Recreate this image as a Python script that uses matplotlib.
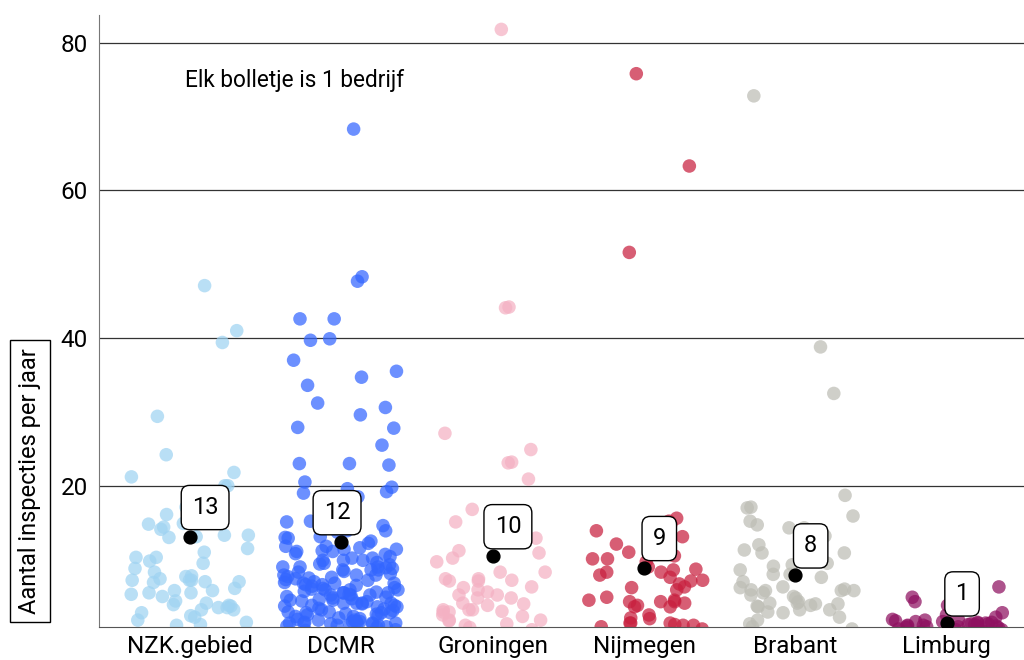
import numpy as np
import matplotlib
matplotlib.use("Agg")
import matplotlib.pyplot as plt

plt.rcParams['font.family'] = ['Roboto', 'DejaVu Sans']

# categories and colours
regions = ['NZK.gebied', 'DCMR', 'Groningen', 'Nijmegen', 'Brabant', 'Limburg']
colors = ['#9fd3f2', '#3366ff', '#f4b1c3', '#c8203f', '#bdbdb5', '#8e1060']

# inspections per year, one value per company
nzk = [47.1, 41.0, 39.4, 29.4, 24.2, 21.8, 21.2, 20.0, 20.0, 17.1, 16.1, 14.4,
       14.1, 14.9, 14.9, 13.1, 13.3, 13.3, 11.0, 11.5, 10.3, 9.8, 9.5, 10.3,
       8.8, 7.8, 7.7, 7.0, 7.0, 7.2, 7.2, 7.4, 7.2, 6.9, 5.8, 8.3, 5.8, 5.3,
       3.8, 5.5, 5.0, 6.1, 5.5, 3.7, 4.1, 3.5, 2.8, 2.2, 2.4, 3.2, 3.9, 3.2,
       1.8, 1.1, 13.0, 14.8, 3.5, 4.4, 1.5, 1.2]
dcmr = [68.3, 47.7, 48.3, 42.6, 42.6, 39.7, 39.9, 37.0, 35.5, 33.6, 34.7, 31.2,
        30.6, 29.6, 27.9, 25.5, 27.8, 22.8, 23.0, 23.0, 20.5, 19.8, 19.6,
        19.0, 19.2, 18.5, 17.0, 16.5, 15.9, 15.2, 15.1, 13.9, 13.7, 13.9, 13.1,
        12.5, 13.0, 11.8, 11.8, 11.1, 11.4, 11.6, 11.1, 11.4, 10.7, 9.9, 10.2,
        9.9, 9.5, 9.9, 10.2, 9.3, 9.0, 8.8, 9.0, 8.6, 9.0, 8.3, 7.6, 8.6, 7.9,
        7.9, 7.9, 8.6, 7.2, 7.5, 6.6, 5.9, 6.8, 6.1, 6.8, 5.9, 6.6, 7.0, 6.2,
        6.8, 5.9, 5.5, 5.5, 5.5, 5.2, 5.2, 4.8, 4.9, 5.2, 4.1, 4.5, 4.5, 4.1,
        3.8, 3.8, 3.6, 4.1, 4.3, 4.1, 3.6, 3.2, 2.9, 2.8, 2.9, 2.5, 2.8, 2.8,
        2.3, 2.3, 2.1, 1.6, 1.6, 1.8, 1.4, 1.1, 1.6, 1.4, 1.4, 1.4, 1.3, 1.4,
        1.1, 12.2, 10.8, 10.4, 9.6, 8.9, 8.4, 8.1, 7.7, 7.3, 6.9, 6.4, 6.0,
        5.7, 5.3, 5.0, 4.7, 4.4, 4.0, 3.7, 3.4, 3.1, 2.7, 2.4, 2.0, 1.8, 1.5,
        1.2, 1.0, 0.8, 0.5, 14.6, 12.9, 11.2, 9.4, 7.4, 6.5, 5.6, 4.6, 3.3,
        2.6, 1.9, 1.3, 0.9, 0.4]
groningen = [81.8, 44.2, 44.1, 27.1, 23.2, 23.1, 24.9, 20.9, 16.8, 14.7, 12.9,
             10.9, 10.2, 9.7, 12.8, 11.2, 8.3, 8.3, 7.1, 6.2, 5.6, 4.8, 7.4,
             7.4, 7.1, 7.2, 6.3, 5.9, 4.8, 5.2, 5.2, 4.1, 3.2, 3.8, 3.2, 2.3,
             3.0, 3.2, 2.5, 4.0, 2.9, 1.8, 1.7, 2.9, 1.8, 1.1, 0.8, 0.5, 1.3,
             15.1]
nijmegen = [75.8, 63.3, 51.6, 15.2, 13.9, 14.8, 15.6, 13.1, 12.0, 11.0, 10.1,
            9.7, 10.5, 10.1, 12.1, 9.0, 8.6, 7.1, 7.9, 8.3, 6.7, 8.3, 7.6, 7.2,
            8.7, 6.3, 5.9, 6.2, 4.3, 4.9, 4.3, 4.5, 3.6, 3.8, 4.3, 3.6, 4.5,
            4.1, 2.5, 2.1, 2.0, 1.4, 1.4, 1.1, 1.1, 1.4, 0.9, 1.2, 0.6]
brabant = [72.8, 38.8, 32.5, 18.7, 17.1, 17.0, 15.9, 15.2, 14.7, 14.3, 14.3,
           13.2, 12.0, 10.9, 10.9, 9.5, 11.3, 9.3, 8.6, 9.1, 8.0, 7.6, 8.0,
           7.0, 5.8, 5.8, 6.0, 5.8, 6.3, 5.5, 5.9, 6.2, 4.8, 5.2, 3.7, 4.0,
           5.0, 3.6, 4.0, 2.9, 4.3, 4.1, 4.1, 3.8, 3.2, 2.8, 3.2, 2.2, 1.8,
           0.9, 1.3, 0.6]
limburg = [6.3, 4.3, 2.8, 4.9, 3.8, 2.5, 2.2, 1.9, 1.8, 1.8, 1.7, 1.6, 1.6,
           1.5, 1.5, 1.4, 1.4, 1.3, 1.3, 1.2, 1.2, 1.1, 1.1, 1.0, 1.0, 1.0,
           0.9, 0.9, 0.8, 0.8, 0.7, 0.6, 0.5, 0.5, 0.3, 0.2, 0, 0, 0, 0]
series = [nzk, dcmr, groningen, nijmegen, brabant, limburg]

# group averages (black dots) and their labels
means = [13.1, 12.4, 10.5, 8.9, 7.9, 1.4]
mean_labels = ['13', '12', '10', '9', '8', '1']

fig = plt.figure(figsize=(10.24, 6.6), dpi=100)
ax = fig.add_axes([99 / 1024, 33 / 660, 925 / 1024, 612 / 660])

rng = np.random.default_rng(7)
for i, vals in enumerate(series):
    xs = i + rng.uniform(-0.39, 0.39, len(vals))
    ax.scatter(xs, vals, s=95, color=colors[i], alpha=0.72,
               edgecolors='none', zorder=2)

ax.scatter(range(len(means)), means, s=85, color='black', zorder=4)
for i, (m, lab) in enumerate(zip(means, mean_labels)):
    off = (-3, 21) if i == 1 else (11, 21)
    ax.annotate(lab, (i, m), xytext=off, textcoords='offset points',
                ha='center', va='center', fontsize=17, zorder=5,
                bbox=dict(boxstyle='round,pad=0.45,rounding_size=0.35',
                          fc='white', ec='black', lw=1))

ax.text(-0.03, 74.9, 'Elk bolletje is 1 bedrijf', fontsize=16.3, va='center')

ax.set_xlim(-0.6, 5.51)
ax.set_ylim(0.87, 83.75)
ax.set_xticks(range(len(regions)))
ax.set_xticklabels(regions)
ax.set_yticks([20, 40, 60, 80])
ax.tick_params(length=0, labelsize=17.5)
ax.tick_params(axis='y', pad=8)
ax.tick_params(axis='x', pad=6)
ax.yaxis.grid(True, color='#333333', lw=0.9)
ax.set_axisbelow(True)
for s in ['top', 'right']:
    ax.spines[s].set_visible(False)
ax.spines['left'].set_color('#777777')
ax.spines['bottom'].set_color('#555555')

fig.text(30 / 1024, 1 - 481 / 660, 'Aantal inspecties per jaar', rotation=90,
         fontsize=17, ha='center', va='center',
         bbox=dict(boxstyle='square,pad=0.35', fc='white', ec='black', lw=1))

fig.savefig('out.png', dpi=100)
